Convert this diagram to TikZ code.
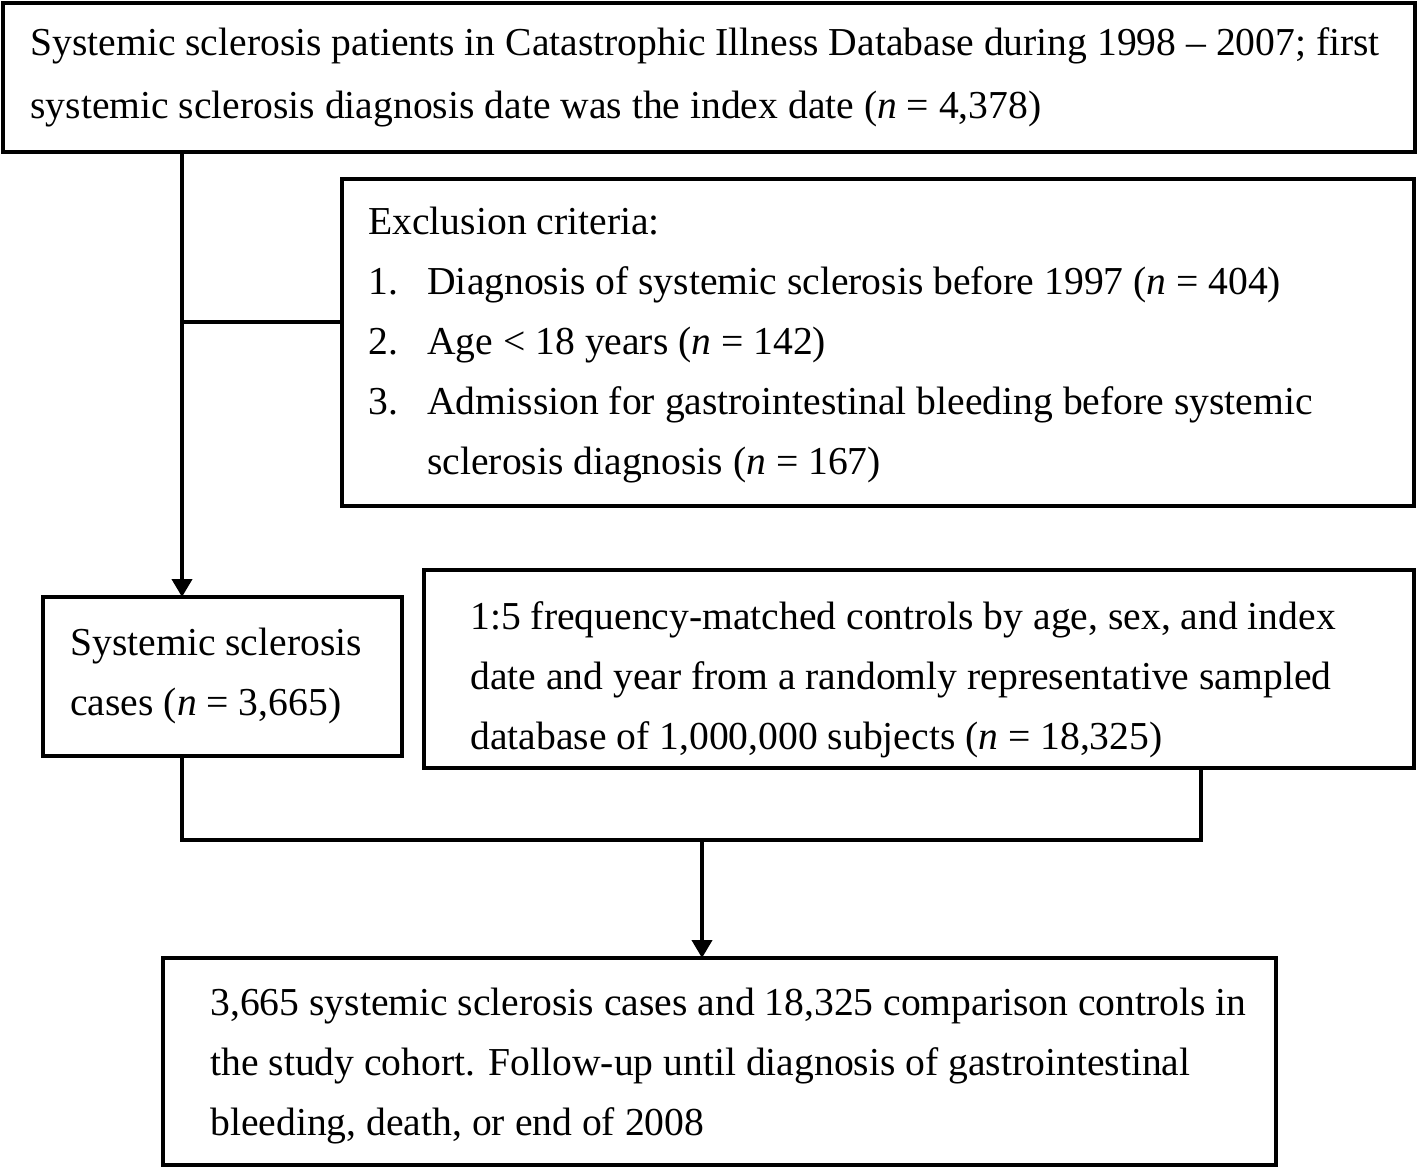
\documentclass[tikz,border=0pt]{standalone}
\usepackage{fontspec}
\setmainfont{Liberation Serif}
\usetikzlibrary{arrows.meta}
\begin{document}
\begin{tikzpicture}[x=0.5pt,y=-0.5pt,
  box/.style={draw,line width=2pt,inner sep=0pt,outer sep=0pt,anchor=north west},
  txt/.style={anchor=base west,inner sep=0pt,font=\fontsize{19.8}{22}\selectfont},
  conn/.style={line width=2pt},
  arr/.style={line width=2pt,-{Triangle[width=10pt,length=9pt]}}]
\useasboundingbox[fill=white] (0,0) rectangle (1418,1170);
% boxes
\node[box,minimum width=706pt,minimum height=74.5pt] (b1) at (3,3) {};
\node[box,minimum width=536pt,minimum height=163.5pt] (b2) at (342,179) {};
\node[box,minimum width=179.5pt,minimum height=79.5pt] (b3) at (43,597) {};
\node[box,minimum width=495pt,minimum height=99pt] (b4) at (424,570) {};
\node[box,minimum width=556.5pt,minimum height=103.5pt] (b5) at (163,958) {};
% texts
\node[txt] (t1a) at (30,56) {Systemic sclerosis patients in Catastrophic Illness Database during 1998 – 2007; first};
\node[txt] (t1b) at (30,119) {systemic sclerosis diagnosis date was the index date (\textit{n} = 4,378)};
\node[txt] (t2a) at (368,235) {Exclusion criteria:};
\node[txt] (t2n1) at (368,295) {1.};
\node[txt] (t2b) at (427,295) {Diagnosis of systemic sclerosis before 1997 (\textit{n} = 404)};
\node[txt] (t2n2) at (368,355) {2.};
\node[txt] (t2c) at (427,355) {Age < 18 years (\textit{n} = 142)};
\node[txt] (t2n3) at (368,415) {3.};
\node[txt] (t2d) at (427,415) {Admission for gastrointestinal bleeding before systemic};
\node[txt] (t2e) at (427,475) {sclerosis diagnosis (\textit{n} = 167)};
\node[txt] (t3a) at (70,655) {Systemic sclerosis};
\node[txt] (t3b) at (70,715) {cases (\textit{n} = 3,665)};
\node[txt] (t4a) at (470,629) {1:5 frequency-matched controls by age, sex, and index};
\node[txt] (t4b) at (470,689) {date and year from a randomly representative sampled};
\node[txt] (t4c) at (470,749) {database of 1,000,000 subjects (\textit{n} = 18,325)};
\node[txt] (t5a) at (210,1015) {3,665 systemic sclerosis cases and 18,325 comparison controls in};
\node[txt] (t5b) at (210,1075) {the study cohort. Follow-up until diagnosis of gastrointestinal};
\node[txt] (t5c) at (210,1135) {bleeding, death, or end of 2008};
% connectors
\coordinate (j1) at (182,322);
\coordinate (j2) at (182,840);
\coordinate (j3) at (1201,840);
\coordinate (j4) at (702,840);
\draw[arr] (b1.south -| j1) -- (b3.north -| j1);
\draw[conn] (j1) -- (j1 -| b2.west);
\draw[conn] (b3.south -| j2) -- (j2) -- (j3) -- (b4.south -| j3);
\draw[arr] (j4) -- (b5.north -| j4);
\end{tikzpicture}
\end{document}
